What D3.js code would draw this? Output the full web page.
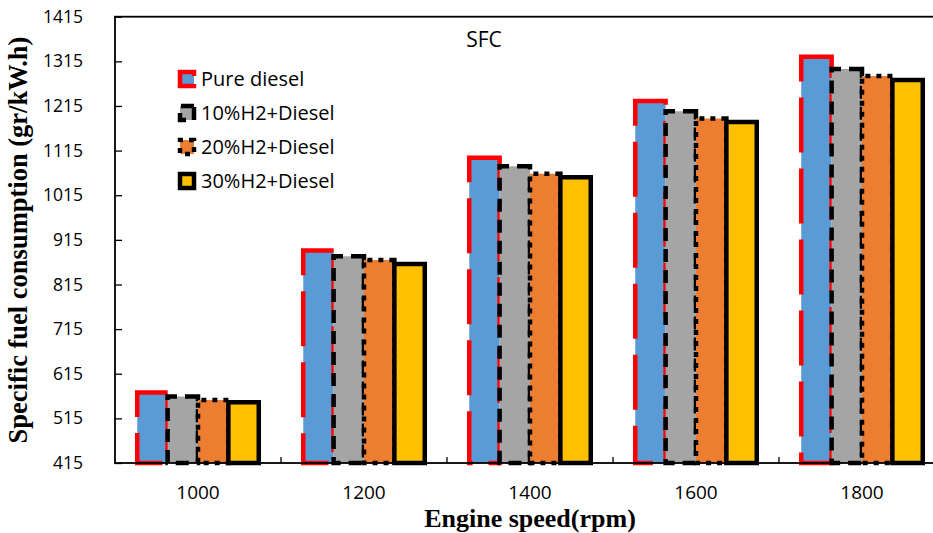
<!DOCTYPE html>
<html>
<head>
<meta charset="utf-8">
<script src="https://cdn.jsdelivr.net/npm/d3@7"></script>
<style>
  body { margin: 0; background: #fff; }
  .tick text { font-family: "Open Sans", sans-serif; fill: #000; }
</style>
</head>
<body>
<div id="graphic"></div>
<script>
// chart data
const categories = ["1000", "1200", "1400", "1600", "1800"];
const seriesNames = ["Pure diesel", "10%H2+Diesel", "20%H2+Diesel", "30%H2+Diesel"];
const pureDiesel = [573, 891, 1099, 1226, 1325];
const h2_10 = [564, 878, 1080, 1203, 1298];
const h2_20 = [556, 870, 1063, 1187, 1282];
const h2_30 = [551, 861, 1055, 1179, 1273];
const yTicks = [415, 515, 615, 715, 815, 915, 1015, 1115, 1215, 1315, 1415];

const seriesValues = [pureDiesel, h2_10, h2_20, h2_30];

// look of each series
const styles = {
  "Pure diesel":   { fill: "#5B9BD5", stroke: "#FF0000", dash: "55,16", legendDash: "44,8", width: 4.5 },
  "10%H2+Diesel":  { fill: "#A5A5A5", stroke: "#000",    dash: "13,8",  legendDash: "13,8", width: 4.5 },
  "20%H2+Diesel":  { fill: "#ED7D31", stroke: "#000",    dash: "5,6",   legendDash: "5,6",  width: 4.5 },
  "30%H2+Diesel":  { fill: "#FFC000", stroke: "#000",    dash: null,    legendDash: null,   width: 4.5 }
};

const W = 933, H = 533;
const margin = { top: 16.7, left: 115, bottom: 70 };
const plotW = 830;                  // frame runs past the right edge of the picture
const plotH = H - margin.bottom - margin.top;

const svg = d3.select("#graphic").append("svg")
  .attr("width", W).attr("height", H)
  .style("display", "block");

svg.append("rect").attr("width", W).attr("height", H).attr("fill", "#fff");

const g = svg.append("g").attr("transform", `translate(${margin.left},${margin.top})`);

// scales
const x0 = d3.scaleBand().domain(categories).range([0, plotW])
  .paddingInner(0.268).paddingOuter(0.134);
const x1 = d3.scaleBand().domain(seriesNames).range([0, x0.bandwidth()]).padding(0);
const y = d3.scaleLinear().domain([415, 1415]).range([plotH, 0]);

// box outline that starts at the top-right corner and runs anticlockwise,
// so the dash pattern always covers the top edge first
function boxPath(x, top, w, bottom) {
  const p = d3.path();
  p.moveTo(x + w, top);
  p.lineTo(x, top);
  p.lineTo(x, bottom);
  p.lineTo(x + w, bottom);
  p.closePath();
  return p.toString();
}

// bars, one series at a time so later series sit on top
seriesNames.forEach((name, si) => {
  const st = styles[name];
  g.append("g").attr("class", "series")
    .selectAll("path")
    .data(categories.map((c, i) => ({ cat: c, value: seriesValues[si][i] })))
    .join("path")
    .attr("d", d => boxPath(x0(d.cat) + x1(name), y(d.value), x1.bandwidth(), y(415)))
    .attr("fill", st.fill)
    .attr("stroke", st.stroke)
    .attr("stroke-width", st.width)
    .attr("stroke-dasharray", st.dash);
});

// frame
g.append("rect")
  .attr("width", plotW).attr("height", plotH)
  .attr("fill", "none").attr("stroke", "#000").attr("stroke-width", 1.8);

// y axis, ticks pointing inward
const yAxis = d3.axisLeft(y).tickValues(yTicks).tickSize(-7).tickPadding(32).tickFormat(d3.format("d"));
g.append("g").attr("class", "y axis").call(yAxis)
  .call(s => s.select(".domain").remove())
  .call(s => s.selectAll(".tick line").attr("stroke", "#000").attr("stroke-width", 1.3))
  .call(s => s.selectAll(".tick text").attr("font-size", 17.5));

// x axis labels
const xAxis = d3.axisBottom(x0).tickSize(0).tickPadding(23);
g.append("g").attr("class", "x axis").attr("transform", `translate(0,${plotH})`).call(xAxis)
  .call(s => s.select(".domain").remove())
  .call(s => s.selectAll(".tick text").attr("font-size", 19));

// category boundary ticks
const gap = (x0.step() - x0.bandwidth()) / 2;
g.append("g").selectAll("line")
  .data(categories.slice(1))
  .join("line")
  .attr("x1", d => x0(d) - gap).attr("x2", d => x0(d) - gap)
  .attr("y1", plotH).attr("y2", plotH - 6)
  .attr("stroke", "#000").attr("stroke-width", 1.3);

// title inside the plot
svg.append("text")
  .attr("x", 484).attr("y", 47)
  .attr("text-anchor", "middle")
  .attr("font-family", "Open Sans, sans-serif").attr("font-size", 21)
  .text("SFC");

// legend
const legend = svg.append("g").attr("transform", "translate(180,0)");
seriesNames.forEach((name, i) => {
  const st = styles[name];
  const cy = 79 + i * 34;
  legend.append("path")
    .attr("d", boxPath(0, cy - 7, 14, cy + 7))
    .attr("fill", st.fill).attr("stroke", st.stroke)
    .attr("stroke-width", st.width)
    .attr("stroke-dasharray", st.legendDash);
  legend.append("text")
    .attr("x", 21).attr("y", cy + 7)
    .attr("font-family", "Open Sans, sans-serif").attr("font-size", 20)
    .text(name);
});

// axis titles
svg.append("text")
  .attr("transform", "translate(27,240) rotate(-90)")
  .attr("text-anchor", "middle")
  .attr("font-family", "Liberation Serif, serif").attr("font-weight", "bold").attr("font-size", 26.5)
  .text("Specific fuel consumption (gr/kW.h)");

svg.append("text")
  .attr("x", 530).attr("y", 527)
  .attr("text-anchor", "middle")
  .attr("font-family", "Liberation Serif, serif").attr("font-weight", "bold").attr("font-size", 26)
  .text("Engine speed(rpm)");
</script>
</body>
</html>
